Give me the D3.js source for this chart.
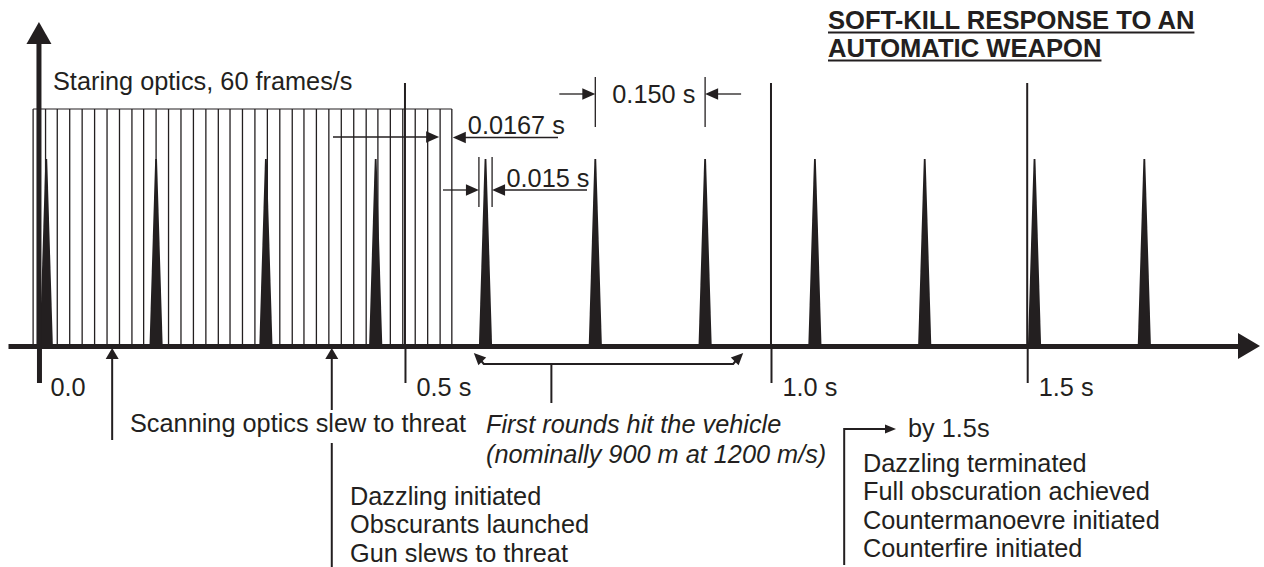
<!DOCTYPE html>
<html>
<head>
<meta charset="utf-8">
<script src="https://d3js.org/d3.v7.min.js"></script>
<style>
  body { margin: 0; background: #fff; }
  svg text { font-family: "Liberation Sans", Arial, sans-serif; fill: #231f20; }
</style>
</head>
<body>
<div id="chart"></div>
<script>
'use strict';

// time axis (seconds); the 1.5 s marker sits where the source drew it
const tickTimes = [0, 0.5, 1.0, 1.35];
const tickLabels = ['0.0', '0.5 s', '1.0 s', '1.5 s'];

// rounds arriving, one every 0.150 s
const pulseTimes = [0.01, 0.16, 0.31, 0.46, 0.61, 0.76, 0.91, 1.06, 1.21, 1.36, 1.51];
const pulseDur = 0.018;

// staring optics frame boundaries (60 frames/s)
const frameTimes = [-0.008, 0.009, 0.025, 0.042, 0.059, 0.076, 0.093, 0.110, 0.127, 0.143,
  0.160, 0.177, 0.194, 0.211, 0.228, 0.245, 0.261, 0.278, 0.295, 0.312, 0.329, 0.346,
  0.362, 0.379, 0.396, 0.413, 0.430, 0.447, 0.463, 0.480, 0.497, 0.514, 0.531, 0.548, 0.564];

// events
const scanTime = 0.1;
const dazzleTime = 0.4;
const hitRange = [0.594, 0.962];
const hitMid = 0.70;
const byTime = 1.1;

const titleLines = ['SOFT-KILL RESPONSE TO AN', 'AUTOMATIC WEAPON'];
const dazzleLines = ['Dazzling initiated', 'Obscurants launched', 'Gun slews to threat'];
const endLines = ['Dazzling terminated', 'Full obscuration achieved', 'Countermanoevre initiated', 'Counterfire initiated'];
const hitLines = ['First rounds hit the vehicle', '(nominally 900 m at 1200 m/s)'];

const width = 1264, height = 567;
const ink = '#231f20';
const fontSize = 25.3;

const svg = d3.select('#chart').append('svg')
  .attr('width', width)
  .attr('height', height);

const x = d3.scaleLinear().domain([-0.0423, 1.6407]).range([8, 1240]);
const y = d3.scaleLinear().domain([0, 1]).range([346, 159]);
const base = y(0);

function arrowHead(tx, ty, angle, len, half) {
  const a = angle * Math.PI / 180;
  const bx = tx - len * Math.cos(a), by = ty - len * Math.sin(a);
  const px = -Math.sin(a) * half, py = Math.cos(a) * half;
  svg.append('polygon')
    .attr('points', [[tx, ty], [bx + px, by + py], [bx - px, by - py]].map(p => p.join(',')).join(' '))
    .attr('fill', ink);
}

function line(x1, y1, x2, y2, w) {
  svg.append('line')
    .attr('x1', x1).attr('y1', y1).attr('x2', x2).attr('y2', y2)
    .attr('stroke', ink)
    .attr('stroke-width', w);
}

function text(str, tx, ty, opts) {
  const t = svg.append('text')
    .attr('x', tx).attr('y', ty)
    .attr('font-size', fontSize)
    .text(str);
  if (opts && opts.italic) t.attr('font-style', 'italic');
  if (opts && opts.bold) t.attr('font-weight', 'bold').attr('font-size', 25.6);
  return t;
}

// frames of the staring optics
line(x(frameTimes[0]), 109, x(frameTimes[frameTimes.length - 1]), 109, 1.2);
svg.append('g').selectAll('line')
  .data(frameTimes)
  .join('line')
  .attr('x1', d => x(d)).attr('x2', d => x(d))
  .attr('y1', 109).attr('y2', base)
  .attr('stroke', ink)
  .attr('stroke-width', 1.3);

// tall markers above the axis
svg.append('g').selectAll('line')
  .data(tickTimes.slice(1))
  .join('line')
  .attr('x1', d => x(d)).attr('x2', d => x(d))
  .attr('y1', 83).attr('y2', base)
  .attr('stroke', ink)
  .attr('stroke-width', 2);

// pulses
const halfW = (x(pulseDur) - x(0)) / 2;
svg.append('g').selectAll('path')
  .data(pulseTimes)
  .join('path')
  .attr('d', d => {
    const cx = x(d);
    return `M${cx - halfW},${base} L${cx - 0.9},${y(1)} L${cx + 0.9},${y(1)} L${cx + halfW},${base} Z`;
  })
  .attr('fill', ink);

// x axis
const xAxis = d3.axisBottom(x)
  .tickValues(tickTimes)
  .tickFormat((d, i) => tickLabels[i])
  .tickSize(37)
  .tickSizeOuter(0);

svg.append('g')
  .attr('transform', `translate(0,${base})`)
  .call(xAxis)
  .call(g => g.select('.domain').attr('stroke', ink).attr('stroke-width', 5))
  .call(g => g.selectAll('.tick line').attr('stroke', ink).attr('stroke-width', (d, i) => i === 0 ? 5 : 2))
  .call(g => g.selectAll('.tick text')
    .attr('text-anchor', 'start')
    .attr('x', 11)
    .attr('y', 50)
    .attr('dy', null)
    .attr('font-size', fontSize)
    .attr('font-family', '"Liberation Sans", Arial, sans-serif')
    .attr('fill', ink));
arrowHead(1260, base, 0, 22, 13);

// y axis
line(x(0), base, x(0), 40, 5);
arrowHead(x(0), 22, -90, 22, 12.5);

text('Staring optics, 60 frames/s', 53, 90);

// 0.150 s spacing
const p5 = x(pulseTimes[5]), p6 = x(pulseTimes[6]);
line(p5, 77, p5, 127, 1.3);
line(p6, 77, p6, 127, 1.3);
line(p5 - 36, 94, p5 - 10, 94, 1.3);
arrowHead(p5, 94, 0, 13, 5.8);
line(p6 + 36, 94, p6 + 10, 94, 1.3);
arrowHead(p6, 94, 180, 13, 5.8);
text('0.150 s', p5 + 17, 103);

// 0.0167 s frame period
const f0 = x(frameTimes[frameTimes.length - 2]), f1 = x(frameTimes[frameTimes.length - 1]);
line(333, 137, f0 - 10, 137, 1.3);
arrowHead(f0 - 1, 137, 0, 13, 5.8);
line(f1 + 10, 137.5, 558, 137.5, 1.3);
arrowHead(f1 + 1, 137.5, 180, 13, 5.8);
text('0.0167 s', f1 + 16, 134);

// 0.015 s pulse width
const pc = x(pulseTimes[4]);
line(pc - halfW, 157, pc - halfW, 207, 1.3);
line(pc + halfW, 157, pc + halfW, 207, 1.3);
line(443, 190, pc - halfW - 10, 190, 1.3);
arrowHead(pc - halfW, 190, 0, 13, 5.8);
line(pc + halfW + 10, 190, 587, 190, 1.3);
arrowHead(pc + halfW, 190, 180, 13, 5.8);
text('0.015 s', pc + 21, 187);

// scanning optics
line(x(scanTime), 440, x(scanTime), 356, 2);
arrowHead(x(scanTime), 348, -90, 11, 6.5);
text('Scanning optics slew to threat', 130, 432);

// dazzling initiated
line(x(dazzleTime), 410, x(dazzleTime), 356, 2);
line(x(dazzleTime), 443, x(dazzleTime), 567, 2);
arrowHead(x(dazzleTime), 348, -90, 11, 6.5);
dazzleLines.forEach((s, i) => text(s, 350, 505 + i * 28.3));

// first rounds hit
const h0 = x(hitRange[0]), h1 = x(hitRange[1]);
svg.append('path')
  .attr('d', `M${h0 + 5},358 L${h0 + 10},364 L${h1 - 10},364 L${h1 - 5},358`)
  .attr('fill', 'none')
  .attr('stroke', ink)
  .attr('stroke-width', 2);
arrowHead(h0, 353, -135, 12, 5.5);
arrowHead(h1, 353, -45, 12, 5.5);
line(x(hitMid), 364, x(hitMid), 403, 2);
hitLines.forEach((s, i) => text(s, 486, 433 + i * 30, { italic: true }));

// by 1.5 s
svg.append('path')
  .attr('d', `M${x(byTime)},565 L${x(byTime)},429 L886,429`)
  .attr('fill', 'none')
  .attr('stroke', ink)
  .attr('stroke-width', 2);
arrowHead(896, 429, 0, 11, 4.5);
text('by 1.5s', 908, 437);
endLines.forEach((s, i) => text(s, 863, 472 + i * 28.3));

// title
titleLines.forEach((s, i) => {
  const t = text(s, 828, 29 + i * 28, { bold: true });
  const w = t.node().getComputedTextLength();
  line(828, 32.5 + i * 28, 828 + w, 32.5 + i * 28, 2);
});
</script>
</body>
</html>
